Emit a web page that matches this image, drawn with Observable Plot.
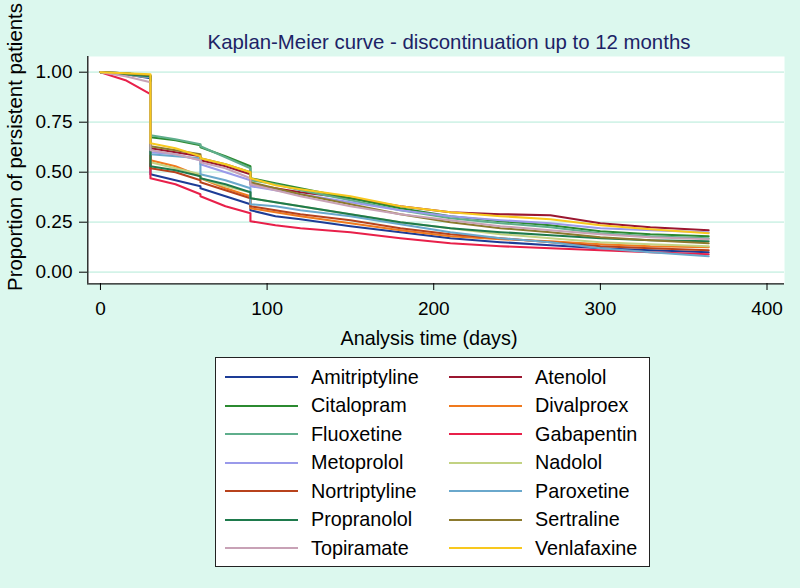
<!DOCTYPE html>
<html><head><meta charset="utf-8">
<script src="https://cdn.jsdelivr.net/npm/d3@7"></script>
<script src="https://cdn.jsdelivr.net/npm/@observablehq/plot@0.6"></script>
<style>
body{margin:0;background:#dcf8ee;}
#wrap{position:relative;width:800px;height:588px;background:#dcf8ee;font-family:"Liberation Sans",Arial,Helvetica,sans-serif;overflow:hidden;color:#000}
#chart{position:absolute;left:0;top:0}
.title{position:absolute;white-space:nowrap;transform:translate(-50%,-50%)}
#maintitle{left:449px;top:42px;font-size:20.4px;color:#1c2366}
#xtitle{left:429px;top:338px;font-size:19.8px}
#ytitle{left:15px;top:147px;font-size:20.4px;transform:translate(-50%,-50%) rotate(-90deg)}
#legend{position:absolute;left:215px;top:357px;width:433px;height:208px;background:#fff;border:1px solid #222}
.item{position:absolute;height:28px;display:flex;align-items:center;font-size:19.8px;white-space:nowrap}
.sw{width:73px;height:0;border-top:2.5px solid;margin-right:13px}
</style>
</head><body>
<div id="wrap">
  <div id="chart"></div>
  <div class="title" id="maintitle">Kaplan-Meier curve - discontinuation up to 12 months</div>
  <div class="title" id="xtitle">Analysis time (days)</div>
  <div class="title" id="ytitle">Proportion of persistent patients</div>
  <div id="legend"></div>
</div>
<script>
const drugs = ["Amitriptyline","Atenolol","Citalopram","Divalproex","Fluoxetine","Gabapentin","Metoprolol","Nadolol","Nortriptyline","Paroxetine","Propranolol","Sertraline","Topiramate","Venlafaxine"];
const colors = ["#1d3c96","#9b1730","#2b8a30","#f07a1e","#5fae8c","#e8204a","#9a9aea","#c2d282","#b8421c","#6aa8cc","#1e7a4c","#8c7a2e","#c8a2b6","#f8c81e"];
const xTicks = [0,100,200,300,400];
const yTicks = [0,0.25,0.5,0.75,1];
const days = [0,15,30,30,45,60,60,75,90,90,105,120,150,180,210,240,270,300,330,365];

const amitriptyline = [1,.99,.97,.49,.46,.43,.42,.38,.34,.31,.28,.265,.23,.20,.17,.15,.135,.12,.11,.10];
const atenolol      = [1,.995,.98,.62,.60,.58,.56,.53,.49,.44,.42,.40,.37,.33,.30,.29,.285,.245,.225,.21];
const citalopram    = [1,.995,.98,.675,.66,.635,.625,.58,.53,.47,.445,.42,.37,.32,.28,.255,.235,.205,.19,.18];
const divalproex    = [1,.99,.975,.56,.53,.48,.47,.42,.38,.32,.30,.28,.245,.21,.18,.165,.155,.14,.13,.125];
const fluoxetine    = [1,.995,.98,.685,.665,.64,.63,.575,.52,.46,.44,.41,.36,.31,.27,.245,.225,.195,.18,.17];
const gabapentin    = [1,.96,.89,.47,.44,.39,.38,.33,.295,.255,.235,.22,.20,.17,.145,.13,.12,.11,.10,.09];
const metoprolol    = [1,.99,.975,.60,.59,.56,.54,.50,.46,.43,.41,.39,.35,.31,.28,.26,.245,.22,.21,.20];
const nadolol       = [1,.99,.975,.55,.52,.49,.47,.43,.40,.37,.35,.33,.29,.25,.22,.19,.17,.15,.14,.13];
const nortriptyline = [1,.99,.975,.52,.50,.46,.45,.41,.37,.33,.31,.29,.26,.22,.19,.17,.15,.13,.12,.11];
const paroxetine    = [1,.99,.975,.59,.58,.57,.49,.46,.42,.34,.33,.31,.28,.24,.20,.17,.15,.12,.10,.08];
const propranolol   = [1,.99,.98,.53,.51,.48,.47,.44,.40,.37,.35,.33,.29,.25,.22,.20,.185,.17,.16,.155];
const sertraline    = [1,.995,.985,.63,.61,.59,.57,.54,.50,.45,.42,.39,.34,.29,.25,.22,.20,.175,.16,.145];
const topiramate    = [1,.98,.95,.61,.59,.56,.55,.52,.47,.44,.41,.38,.33,.29,.26,.23,.21,.19,.175,.165];
const venlafaxine   = [1,.995,.99,.645,.62,.58,.57,.54,.50,.47,.435,.415,.38,.33,.30,.28,.265,.235,.215,.195];

const series = [amitriptyline,atenolol,citalopram,divalproex,fluoxetine,gabapentin,metoprolol,nadolol,nortriptyline,paroxetine,propranolol,sertraline,topiramate,venlafaxine];
const rows = drugs.flatMap((d,i) => days.map((t,j) => ({drug:d, day:t, value:series[i][j]})));

const xDomain = [-7.6, 410.5];
const yDomain = [-0.058, 1.0785];
const font = '"Liberation Sans",Arial,Helvetica,sans-serif';

const chart = Plot.plot({
  width: 800, height: 350,
  marginLeft: 87, marginRight: 16, marginTop: 56, marginBottom: 67,
  style: {background: "transparent", fontFamily: font, fontSize: "19px", color: "#000"},
  x: {domain: xDomain, range: [87.3, 784]},
  y: {domain: yDomain, range: [283.3, 56]},
  color: {domain: drugs, range: colors},
  marks: [
    Plot.frame({fill: "white", stroke: "none"}),
    Plot.gridY(yTicks, {stroke: "#d3f3e8", strokeOpacity: 1, strokeWidth: 1.8}),
    Plot.line(rows, {x: "day", y: "value", z: "drug", stroke: "drug", strokeWidth: 2.1}),
    Plot.ruleX([xDomain[0]], {stroke: "#111", strokeWidth: 1.3}),
    Plot.ruleY([yDomain[0]], {stroke: "#111", strokeWidth: 1.3}),
    Plot.axisX(xTicks, {tickSize: 7, tickPadding: 11, label: null, fontSize: 19}),
    Plot.axisY(yTicks, {tickSize: 8, tickPadding: 7, label: null, tickFormat: d3.format(".2f"), fontSize: 19})
  ]
});
document.getElementById("chart").appendChild(chart);

const legend = document.getElementById("legend");
drugs.forEach((d,i) => {
  const col = i % 2, row = Math.floor(i / 2);
  const el = document.createElement("div");
  el.className = "item";
  el.style.left = (col === 0 ? 9 : 233) + "px";
  el.style.top = (5 + row * 28.5) + "px";
  el.innerHTML = `<span class="sw" style="border-color:${colors[i]}"></span><span>${d}</span>`;
  legend.appendChild(el);
});
</script>
</body></html>
